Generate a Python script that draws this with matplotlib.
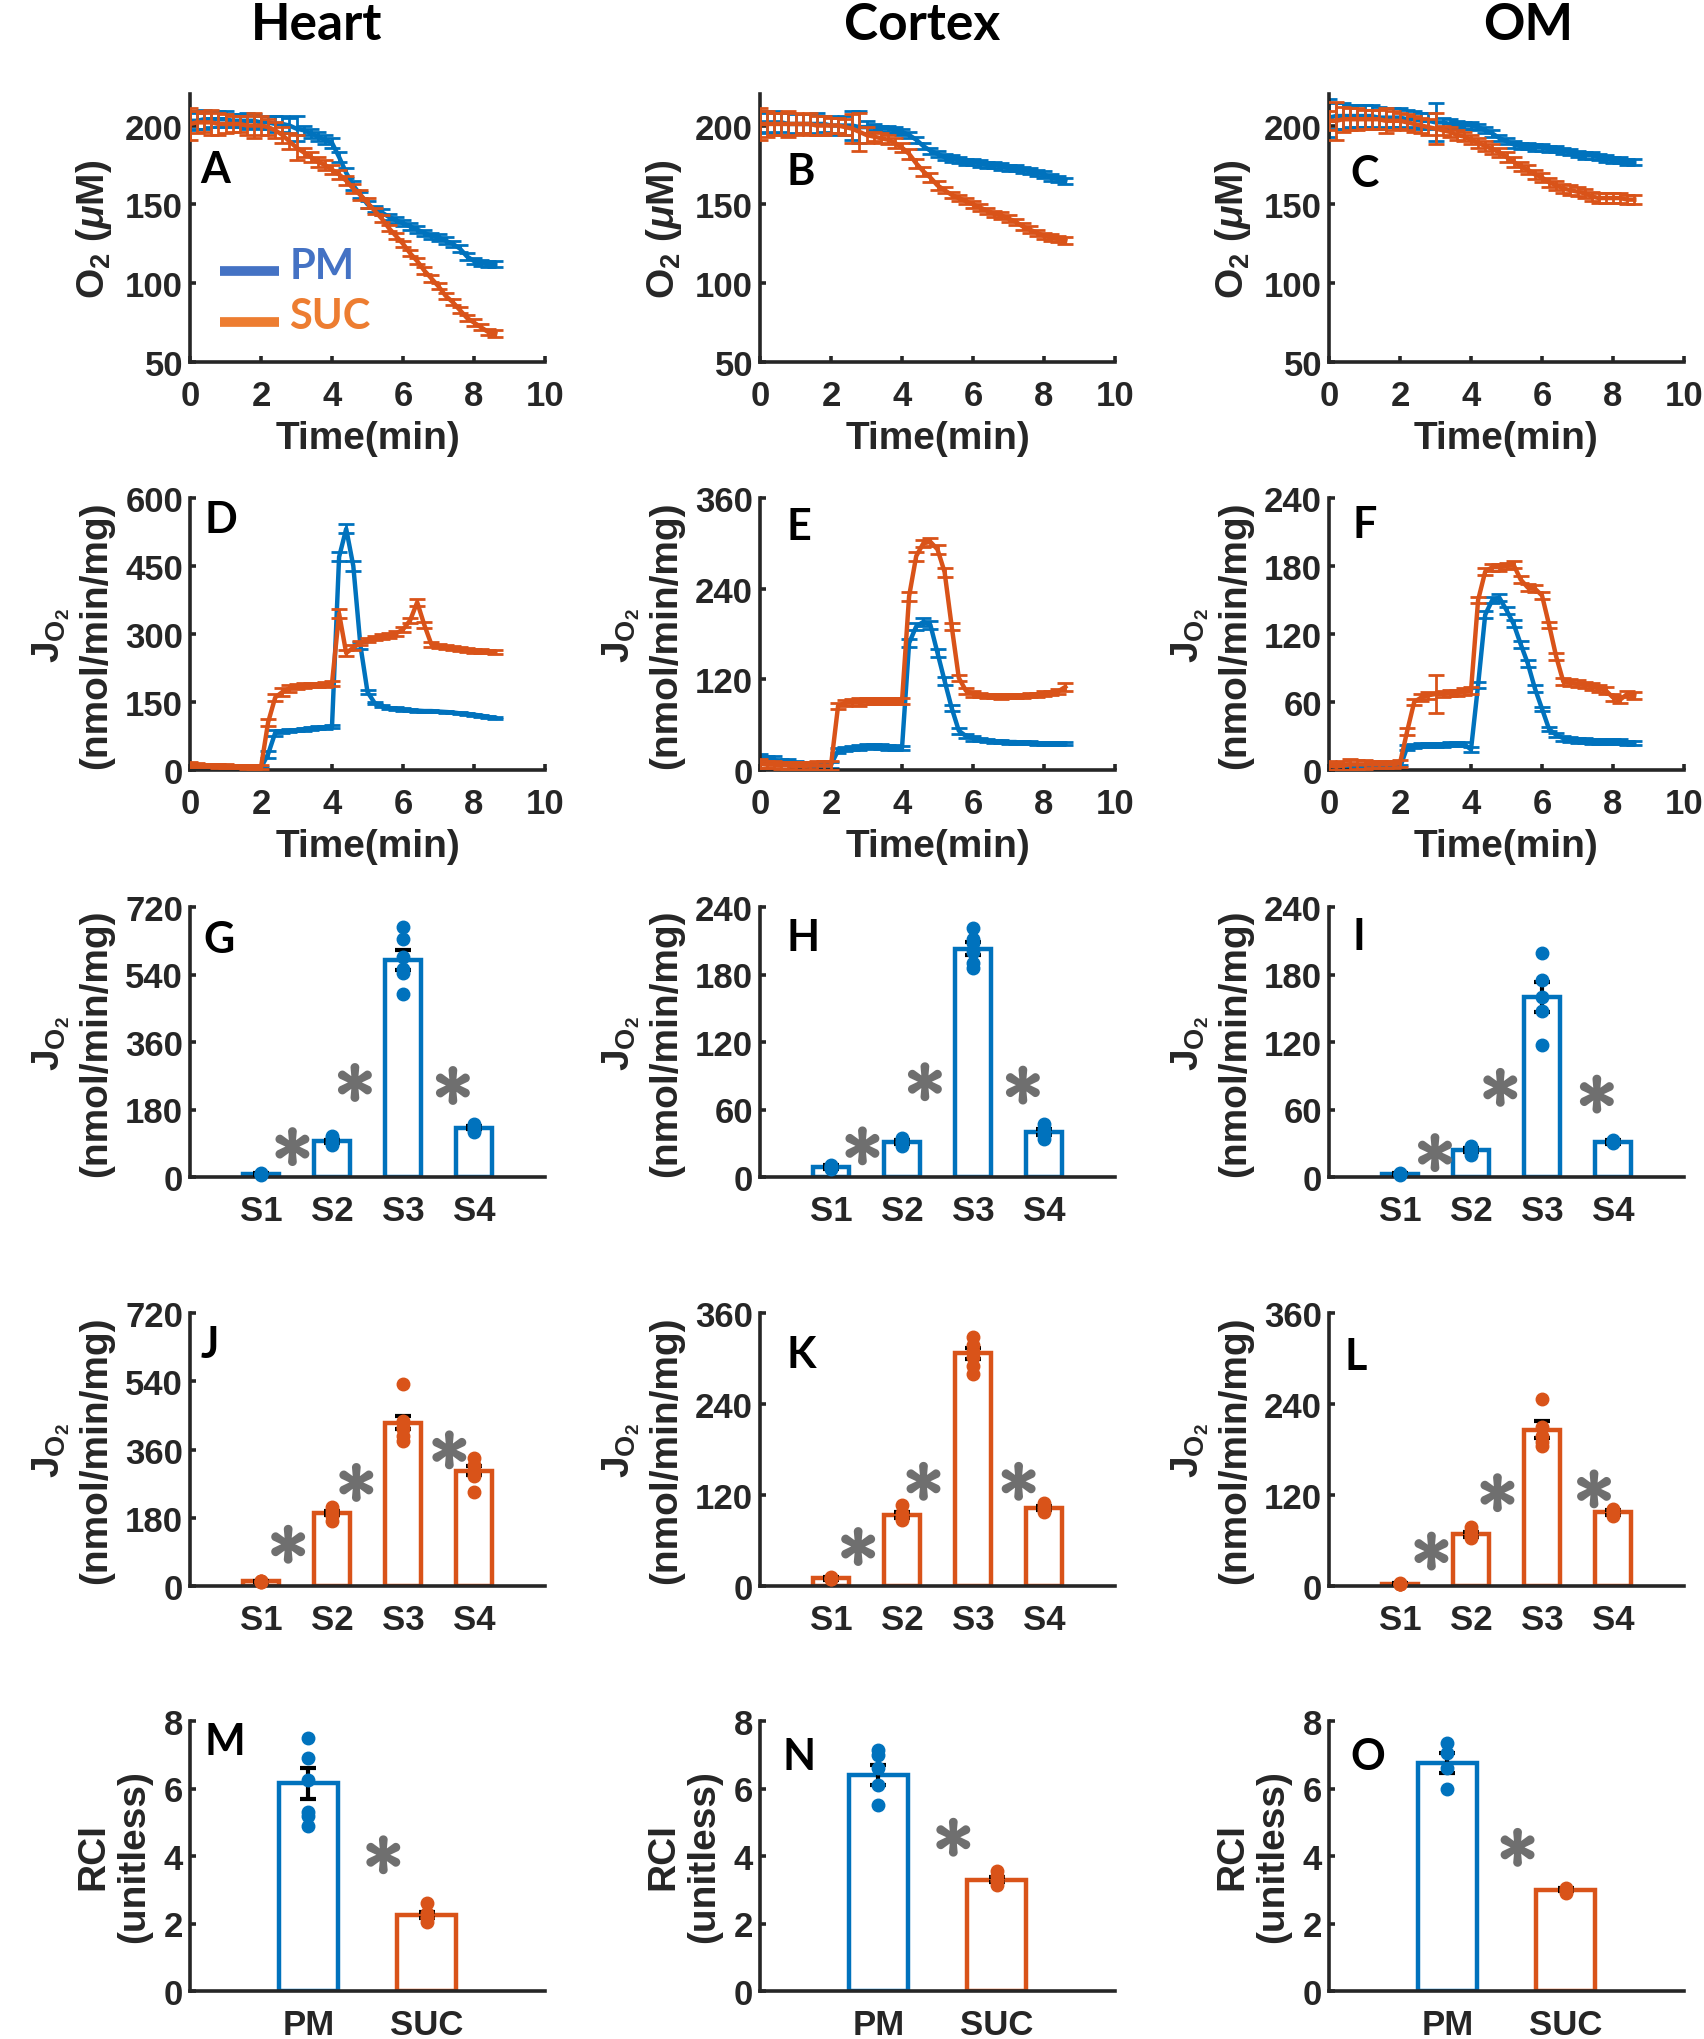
import matplotlib
matplotlib.use("Agg")
import matplotlib.pyplot as plt
import matplotlib.patheffects as pe

plt.rcParams['font.family'] = ['Liberation Sans', 'DejaVu Sans']
plt.rcParams['font.weight'] = 'bold'
plt.rcParams['mathtext.fontset'] = 'custom'
plt.rcParams['mathtext.rm'] = 'Liberation Sans:bold'
plt.rcParams['mathtext.it'] = 'Liberation Sans:bold:italic'
plt.rcParams['mathtext.bf'] = 'Liberation Sans:bold'
plt.rcParams['text.color'] = '#262626'
plt.rcParams['axes.labelcolor'] = '#262626'
plt.rcParams['axes.labelweight'] = 'bold'

# ------------------------------------------------------------------ data
tissues = ['Heart', 'Cortex', 'OM']

time_min = [0.0, 0.2, 0.4, 0.6, 0.8, 1.0, 1.2, 1.4, 1.6, 1.8, 2.0,
            2.2, 2.4, 2.6, 2.8, 3.0, 3.2, 3.4, 3.6, 3.8, 4.0,
            4.2, 4.4, 4.6, 4.8, 5.0, 5.2, 5.4, 5.6, 5.8, 6.0,
            6.2, 6.4, 6.6, 6.8, 7.0, 7.2, 7.4, 7.6, 7.8, 8.0,
            8.2, 8.4, 8.6]

# O2 concentration (uM)
o2_heart_pm = [203, 203, 204, 204, 204, 204, 203, 203, 203, 203, 202,
               202, 201, 201, 200, 198, 197, 195, 193, 191, 189,
               180, 170, 162, 156, 150, 147, 145, 142, 140, 138,
               136, 134, 132, 130, 129, 127, 125, 122, 117, 114,
               113, 112, 112]
o2_heart_pm_se = [6, 5, 6, 5, 5, 5, 4, 4, 5, 4, 4,
                  4, 5, 5, 5, 8, 3, 3, 3, 3, 3,
                  3, 3, 3, 2, 2, 2, 2, 2, 2, 2,
                  2, 2, 2, 2, 2, 2, 2, 2, 2, 2,
                  2, 2, 2]
o2_heart_suc = [201, 202, 202, 202, 201, 201, 201, 201, 200, 200, 200,
                199, 197, 194, 190, 186, 183, 180, 177, 175, 172,
                169, 165, 160, 156, 151, 146, 141, 135, 130, 125,
                119, 114, 108, 103, 98, 92, 88, 83, 78, 75,
                72, 69, 68]
o2_heart_suc_se = [10, 7, 6, 8, 7, 6, 5, 5, 6, 8, 6,
                   5, 5, 5, 5, 8, 3, 3, 3, 3, 3,
                   3, 3, 3, 3, 3, 2, 2, 2, 2, 2,
                   2, 2, 2, 2, 2, 2, 2, 2, 2, 2,
                   2, 2, 2]
o2_cortex_pm = [202, 202, 202, 202, 201, 201, 201, 201, 201, 201, 200,
                200, 200, 200, 199, 199, 199, 198, 198, 197, 196,
                194, 191, 187, 184, 182, 180, 179, 178, 177, 177,
                176, 175, 175, 174, 173, 173, 172, 171, 170, 169,
                167, 166, 165]
o2_cortex_pm_se = [7, 6, 7, 6, 7, 6, 6, 6, 7, 5, 6,
                   5, 6, 9, 10, 4, 2, 2, 2, 2, 2,
                   2, 2, 2, 2, 2, 2, 2, 2, 2, 2,
                   2, 2, 2, 2, 2, 2, 2, 2, 2, 2,
                   2, 2, 2]
o2_cortex_suc = [201, 201, 201, 201, 201, 201, 201, 201, 200, 200, 200,
                 200, 199, 198, 196, 194, 193, 192, 191, 189, 186,
                 182, 176, 171, 167, 162, 159, 156, 154, 152, 150,
                 148, 146, 144, 143, 141, 139, 136, 134, 132, 130,
                 129, 128, 127]
o2_cortex_suc_se = [10, 8, 7, 7, 8, 7, 6, 7, 6, 6, 5,
                    5, 5, 9, 12, 5, 3, 3, 3, 3, 3,
                    3, 3, 3, 3, 3, 2, 2, 2, 2, 2,
                    2, 2, 2, 2, 2, 2, 2, 2, 2, 2,
                    2, 2, 2]
o2_om_pm = [205, 206, 206, 206, 206, 206, 206, 205, 205, 205, 205,
            204, 204, 203, 203, 202, 202, 201, 201, 200, 200,
            199, 197, 195, 192, 190, 188, 187, 187, 186, 186,
            185, 185, 184, 183, 182, 181, 181, 180, 179, 178,
            178, 177, 177]
o2_om_pm_se = [12, 8, 8, 7, 7, 7, 7, 7, 6, 6, 6,
               6, 5, 5, 5, 12, 3, 3, 2, 2, 2,
               2, 2, 2, 2, 2, 2, 2, 2, 2, 2,
               2, 2, 2, 2, 2, 2, 2, 2, 2, 2,
               2, 2, 2]
o2_om_suc = [203, 203, 204, 204, 204, 204, 204, 204, 203, 203, 203,
             202, 201, 200, 199, 198, 197, 196, 194, 193, 191,
             189, 187, 185, 183, 180, 177, 174, 172, 169, 167,
             164, 162, 160, 159, 158, 157, 155, 154, 154, 154,
             154, 153, 153]
o2_om_suc_se = [6, 12, 8, 7, 7, 6, 6, 6, 8, 6, 5,
                5, 5, 5, 5, 10, 3, 3, 3, 3, 3,
                3, 3, 3, 3, 3, 3, 3, 3, 3, 3,
                3, 3, 3, 3, 3, 3, 3, 3, 3, 3,
                3, 3, 3]

# JO2 time courses (nmol/min/mg)
j_heart_pm = [8, 7, 6, 6, 5, 5, 5, 5, 5, 5, 5,
              35, 82, 85, 87, 88, 90, 91, 93, 94, 96,
              470, 532, 450, 275, 172, 148, 141, 137, 135, 133,
              132, 131, 130, 130, 129, 128, 127, 125, 124, 122,
              120, 117, 115]
j_heart_pm_se = [3, 2, 2, 2, 2, 2, 2, 2, 2, 2, 2,
                 8, 6, 3, 3, 3, 3, 3, 3, 3, 3,
                 10, 10, 10, 8, 5, 3, 3, 3, 3, 3,
                 2, 2, 2, 2, 2, 2, 2, 2, 2, 2,
                 2, 2, 2]
j_heart_suc = [12, 11, 10, 10, 9, 9, 8, 8, 7, 7, 6,
               105, 160, 172, 180, 184, 186, 187, 188, 189, 191,
               345, 258, 270, 280, 287, 291, 294, 297, 301, 310,
               330, 370, 320, 277, 273, 271, 269, 267, 265, 263,
               262, 261, 260]
j_heart_suc_se = [5, 5, 4, 4, 4, 4, 4, 4, 4, 4, 4,
                  8, 8, 8, 7, 6, 5, 5, 5, 5, 5,
                  10, 6, 5, 5, 5, 5, 5, 5, 5, 5,
                  5, 8, 6, 5, 4, 4, 4, 4, 4, 4,
                  4, 4, 4]
j_cortex_pm = [15, 14, 13, 11, 10, 8, 7, 6, 6, 6, 7,
               26, 28, 29, 30, 32, 31, 31, 30, 30, 29,
               168, 190, 196, 192, 155, 118, 82, 52, 45, 42,
               40, 39, 38, 38, 37, 37, 36, 36, 35, 35,
               35, 35, 35]
j_cortex_pm_se = [6, 5, 5, 4, 4, 4, 4, 4, 4, 4, 4,
                  3, 3, 3, 3, 3, 3, 3, 3, 3, 3,
                  5, 5, 5, 5, 5, 5, 4, 4, 3, 3,
                  2, 2, 2, 2, 2, 2, 2, 2, 2, 2,
                  2, 2, 2]
j_cortex_suc = [8, 7, 7, 6, 6, 5, 5, 6, 6, 6, 6,
                85, 89, 90, 90, 91, 91, 91, 91, 91, 91,
                230, 283, 300, 302, 292, 262, 190, 122, 105, 101,
                99, 98, 98, 97, 98, 98, 98, 99, 99, 101,
                102, 104, 110]
j_cortex_suc_se = [6, 5, 5, 5, 5, 5, 5, 5, 6, 6, 6,
                   4, 4, 4, 5, 4, 4, 4, 4, 4, 4,
                   6, 6, 5, 5, 6, 6, 5, 4, 4, 4,
                   3, 3, 3, 3, 3, 3, 3, 3, 3, 3,
                   3, 3, 5]
j_om_pm = [1, 1, 1, 1, 1, 1, 1, 1, 2, 2, 2,
           20, 21, 22, 22, 22, 22, 23, 23, 23, 18,
           75, 137, 150, 152, 141, 129, 111, 94, 72, 54,
           36, 31, 28, 27, 26, 26, 25, 25, 25, 25,
           25, 24, 24]
j_om_pm_se = [2, 2, 2, 2, 2, 2, 2, 2, 2, 2, 2,
              2, 2, 2, 2, 2, 2, 2, 2, 2, 2,
              3, 3, 3, 3, 3, 3, 3, 3, 3, 2,
              2, 2, 2, 2, 2, 2, 2, 2, 2, 2,
              2, 2, 2]
j_om_suc = [4, 3, 4, 5, 5, 5, 5, 5, 5, 5, 6,
            34, 60, 64, 66, 67, 67, 68, 68, 69, 70,
            150, 175, 179, 179, 180, 181, 168, 161, 160, 154,
            128, 100, 78, 77, 76, 75, 74, 72, 70, 64,
            62, 67, 66]
j_om_suc_se = [4, 3, 4, 5, 4, 4, 3, 3, 3, 3, 3,
               3, 3, 3, 3, 17, 3, 3, 3, 3, 3,
               3, 3, 3, 3, 3, 3, 3, 3, 3, 3,
               3, 3, 3, 3, 3, 3, 3, 3, 3, 3,
               3, 3, 3]

# State bar charts
state_labels = ['S1', 'S2', 'S3', 'S4']
state_pos = [1, 2, 3, 4]

heart_pm_mean = [8, 95, 578, 132]
heart_pm_se = [2, 5, 27, 4]
heart_pm_pts = [[5, 7, 8, 10, 9], [85, 92, 97, 103, 110],
                [489, 543, 556, 588, 635, 668], [120, 126, 132, 137, 142]]
cortex_pm_mean = [9, 31, 203, 40]
cortex_pm_se = [1.5, 1.5, 6, 3]
cortex_pm_pts = [[7, 8, 9, 10, 11], [28, 30, 31, 33, 35],
                 [186, 190, 200, 208, 212, 221], [34, 37, 40, 43, 47]]
om_pm_mean = [3, 24, 160, 31]
om_pm_se = [1, 2, 13, 1.5]
om_pm_pts = [[2, 3, 3, 4, 3], [20, 22, 24, 26, 28],
             [117, 148, 160, 175, 199], [30, 31, 32, 33, 31]]

heart_suc_mean = [12, 192, 431, 304]
heart_suc_se = [2, 6, 17, 12]
heart_suc_pts = [[10, 12, 13, 11, 14], [172, 185, 192, 200, 208],
                 [382, 395, 413, 420, 435, 532], [249, 289, 300, 307, 320, 338]]
cortex_suc_mean = [10, 94, 307, 103]
cortex_suc_se = [1.5, 4, 7, 3]
cortex_suc_pts = [[9, 10, 11, 12, 9], [87, 90, 92, 96, 107],
                  [280, 290, 302, 310, 318, 328], [97, 100, 103, 106, 110]]
om_suc_mean = [3, 68, 206, 97]
om_suc_se = [1, 3, 11, 3]
om_suc_pts = [[2, 3, 3, 4, 3], [63, 66, 68, 72, 78],
              [185, 190, 198, 210, 247], [92, 95, 97, 100, 101]]

# RCI
rci_labels = ['PM', 'SUC']
rci_pos = [1, 2]
heart_rci_mean = [6.15, 2.25]
heart_rci_se = [0.45, 0.1]
heart_rci_pts = [[4.9, 5.2, 5.3, 6.25, 6.9, 7.5], [2.05, 2.15, 2.2, 2.3, 2.6]]
cortex_rci_mean = [6.4, 3.3]
cortex_rci_se = [0.3, 0.08]
cortex_rci_pts = [[5.5, 6.1, 6.6, 7.0, 7.15], [3.15, 3.25, 3.3, 3.4, 3.55]]
om_rci_mean = [6.75, 3.0]
om_rci_se = [0.3, 0.05]
om_rci_pts = [[6.0, 6.6, 7.05, 7.35], [2.9, 2.95, 3.0, 3.05]]

# significance asterisks (x, y) in data coordinates
star_G = [(1.42, 85), (2.30, 256), (3.68, 248)]
star_H = [(1.42, 29), (2.30, 86), (3.68, 83)]
star_I = [(1.47, 23), (2.39, 81), (3.75, 75)]
star_J = [(1.36, 114), (2.32, 277), (3.63, 363)]
star_K = [(1.36, 54), (2.28, 140), (3.62, 140)]
star_L = [(1.42, 48), (2.35, 125), (3.71, 130)]
star_M = [(1.62, 4.08)]
star_N = [(1.62, 4.6)]
star_O = [(1.58, 4.3)]

# ------------------------------------------------------------------ style
BLUE = '#0072BD'
ORANGE = '#D95319'
AXC = '#262626'
GRAY = '#6f6f6f'
W, H = 1704, 2040
TICK_FS = 25
LABEL_FS = 28

fig = plt.figure(figsize=(W / 100, H / 100), dpi=100)
fig.patch.set_facecolor('white')

col_left = [190, 760, 1329]
ax_w = 355
rows = [(95, 363), (499, 771), (908, 1178), (1314, 1587), (1722, 1992)]


def make_ax(r, c):
    t, b = rows[r]
    ax = fig.add_axes([col_left[c] / W, 1 - b / H, ax_w / W, (b - t) / H])
    for s in ['top', 'right']:
        ax.spines[s].set_visible(False)
    for s in ['left', 'bottom']:
        ax.spines[s].set_linewidth(2.6)
        ax.spines[s].set_color(AXC)
    ax.tick_params(direction='in', length=4, width=2.6, colors=AXC, labelsize=TICK_FS)
    ax.tick_params(axis='x', pad=12)
    ax.tick_params(axis='y', pad=5)
    return ax


def bold_ticks(ax):
    for lab in ax.get_xticklabels() + ax.get_yticklabels():
        lab.set_fontweight('bold')


STAR_FX = [pe.withStroke(linewidth=3.0, foreground=GRAY)]


def stars(ax, pts):
    # mathtext asterisk: its box hugs the glyph, so it centres on (x, y)
    for (x, y) in pts:
        ax.text(x, y, r'$\ast$', ha='center', va='center', fontsize=58,
                color=GRAY, family=['DejaVu Sans'], clip_on=False,
                path_effects=STAR_FX)


o2_series = [(o2_heart_pm, o2_heart_pm_se, o2_heart_suc, o2_heart_suc_se),
             (o2_cortex_pm, o2_cortex_pm_se, o2_cortex_suc, o2_cortex_suc_se),
             (o2_om_pm, o2_om_pm_se, o2_om_suc, o2_om_suc_se)]
j_series = [(j_heart_pm, j_heart_pm_se, j_heart_suc, j_heart_suc_se),
            (j_cortex_pm, j_cortex_pm_se, j_cortex_suc, j_cortex_suc_se),
            (j_om_pm, j_om_pm_se, j_om_suc, j_om_suc_se)]
j_ylims = [(600, 150), (360, 120), (240, 60)]

pm_bars = [(heart_pm_mean, heart_pm_se, heart_pm_pts, 720, 180, star_G),
           (cortex_pm_mean, cortex_pm_se, cortex_pm_pts, 240, 60, star_H),
           (om_pm_mean, om_pm_se, om_pm_pts, 240, 60, star_I)]
suc_bars = [(heart_suc_mean, heart_suc_se, heart_suc_pts, 720, 180, star_J),
            (cortex_suc_mean, cortex_suc_se, cortex_suc_pts, 360, 120, star_K),
            (om_suc_mean, om_suc_se, om_suc_pts, 360, 120, star_L)]
rci_sets = [(heart_rci_mean, heart_rci_se, heart_rci_pts, star_M),
            (cortex_rci_mean, cortex_rci_se, cortex_rci_pts, star_N),
            (om_rci_mean, om_rci_se, om_rci_pts, star_O)]

jlabel = 'J$_{\\mathrm{O}_2}$\n(nmol/min/mg)'


def time_panel(ax, series, ylim, yticks, ylabel):
    pm, pmse, suc, sucse = series
    ax.errorbar(time_min, pm, yerr=pmse, color=BLUE, lw=3.2, elinewidth=2,
                capsize=5.5, capthick=2, zorder=2)
    ax.errorbar(time_min, suc, yerr=sucse, color=ORANGE, lw=3.2, elinewidth=2,
                capsize=5.5, capthick=2, zorder=3)
    ax.set_xlim(0, 10)
    ax.set_xticks([0, 2, 4, 6, 8, 10])
    ax.set_ylim(*ylim)
    ax.set_yticks(yticks)
    ax.set_xlabel('Time(min)', fontsize=LABEL_FS, labelpad=6)
    ax.set_ylabel(ylabel, fontsize=LABEL_FS, labelpad=8)
    bold_ticks(ax)


def bar_panel(ax, pos, labels, means, ses, pts, colors, xlim, ylim, yticks, ylabel, starpts):
    ax.bar(pos, means, width=0.5, facecolor='white', edgecolor=colors,
           linewidth=3.2, zorder=2)
    ax.errorbar(pos, means, yerr=ses, fmt='none', ecolor='black', elinewidth=3,
                capsize=6, capthick=3, zorder=3)
    for p, vals, c in zip(pos, pts, colors):
        ax.plot([p] * len(vals), vals, 'o', color=c, ms=9, mec=c, zorder=4,
                clip_on=False)
    ax.set_xlim(*xlim)
    ax.set_xticks(pos)
    ax.set_xticklabels(labels)
    ax.set_ylim(*ylim)
    ax.set_yticks(yticks)
    ax.set_ylabel(ylabel, fontsize=LABEL_FS, labelpad=8)
    stars(ax, starpts)
    bold_ticks(ax)


for c in range(3):
    # row 1: O2
    ax = make_ax(0, c)
    time_panel(ax, o2_series[c], (50, 220), [50, 100, 150, 200], 'O$_2$ ($\\mu$M)')
    # row 2: JO2
    ax = make_ax(1, c)
    top, step = j_ylims[c]
    time_panel(ax, j_series[c], (0, top), list(range(0, top + 1, step)), jlabel)
    # row 3: PM states
    ax = make_ax(2, c)
    m, s, p, top, step, st = pm_bars[c]
    bar_panel(ax, state_pos, state_labels, m, s, p, [BLUE] * 4, (0, 5), (0, top),
              list(range(0, top + 1, step)), jlabel, st)
    # row 4: SUC states
    ax = make_ax(3, c)
    m, s, p, top, step, st = suc_bars[c]
    bar_panel(ax, state_pos, state_labels, m, s, p, [ORANGE] * 4, (0, 5), (0, top),
              list(range(0, top + 1, step)), jlabel, st)
    # row 5: RCI
    ax = make_ax(4, c)
    m, s, p, st = rci_sets[c]
    bar_panel(ax, rci_pos, rci_labels, m, s, p, [BLUE, ORANGE], (0, 3), (0, 8),
              [0, 2, 4, 6, 8], 'RCI\n(unitless)', st)

# legend in panel A
axA = fig.axes[0]
for y, lab, col in [(0.34, 'PM', '#4472C4'), (0.15, 'SUC', '#ED7D31')]:
    axA.plot([0.085, 0.25], [y, y], transform=axA.transAxes, color=col, lw=7,
             solid_capstyle='butt', clip_on=False)
    axA.text(0.28, y + 0.02, lab, transform=axA.transAxes, ha='left', va='center',
             fontsize=30, color=col, fontweight='bold', family=['Lato', 'DejaVu Sans'])

# column titles
for name, xc in zip(tissues, [317, 922, 1528]):
    fig.text(xc / W, 1 - 25 / H, name, ha='center', va='center', fontsize=37,
             fontweight='bold', color='black', family=['Lato', 'DejaVu Sans'])

# panel letters (left px, top px)
letters = [('A', 200, 150), ('B', 787, 152), ('C', 1350, 154),
           ('D', 204, 500), ('E', 787, 507), ('F', 1352, 505),
           ('G', 203, 920), ('H', 787, 918), ('I', 1352, 917),
           ('J', 201, 1325), ('K', 787, 1335), ('L', 1344, 1337),
           ('M', 204, 1722), ('N', 783, 1737), ('O', 1350, 1737)]
for ch, x, y in letters:
    fig.text(x / W, 1 - y / H, ch, ha='left', va='top', fontsize=31,
             fontweight='bold', color='black', family=['Lato', 'DejaVu Sans'])

fig.savefig('out.png', dpi=100, facecolor='white')
